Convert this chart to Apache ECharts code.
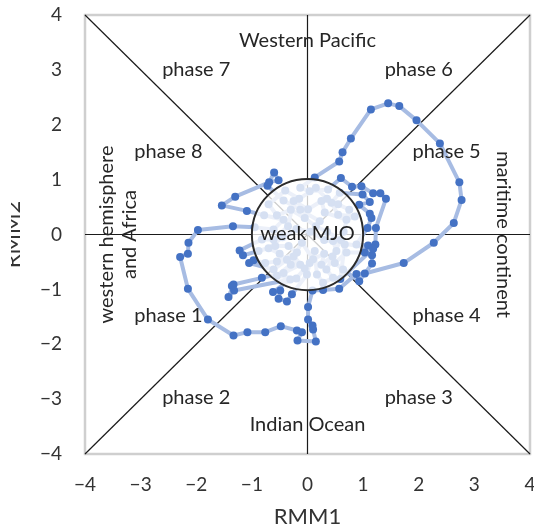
<!DOCTYPE html>
<html>
<head>
<meta charset="utf-8">
<title>RMM phase diagram</title>
<script src="https://cdn.jsdelivr.net/npm/echarts@6/dist/echarts.min.js"></script>
<style>
  html, body { margin: 0; padding: 0; background: #ffffff; }
  #chart { width: 534px; height: 529px; }
</style>
</head>
<body>
<div id="chart"></div>
<script>
// Daily RMM index trajectory (RMM1, RMM2), in time order
const rmm1 = [
  0.22, -0.13, -0.43, -0.72, -0.60, -0.52, -0.69, -1.30, -1.54, -1.09,
  -0.78, -0.43, -0.61, -0.95, -1.34, -1.97, -2.14, -2.15, -2.29, -2.15,
  -1.79, -1.33, -1.08, -0.76, -0.48, -0.19, -0.10, -0.18, 0.15, 0.10,
  0.09, 0.01, 0.01, 0.09, 0.28, 0.57, 0.88, 1.03, 1.73, 2.27,
  2.63, 2.77, 2.73, 2.38, 1.96, 1.65, 1.45, 1.14, 0.78, 0.63,
  0.57, 0.13, -0.13, 0.04, 0.37, 0.60, 0.80, 0.97, 1.18, 1.31,
  1.41, 1.23, 1.22, 1.16, 1.16, 0.93, 0.64, 0.49, 0.70, 1.03,
  1.09, 0.88, 1.08, 1.15, 1.12, 0.93, 1.12, 0.99, 0.58, 0.43,
  0.55, 0.85, 0.70, 0.31, 0.25, 0.01, -0.25, -0.35, -0.61, -0.82,
  -1.22, -1.16, -0.88, -0.58, -0.34, -0.19, -0.55, -0.76, -0.97, -1.05,
  -0.61, -0.37, -0.13, -0.43, -0.82, -1.33, -1.36, -1.42, -1.32, -0.31,
  -0.62, -0.49, -0.52, -0.37, -0.28, -0.01, 0.04, 0.13, 0.17, 0.28,
  0.46, 0.34, 0.52, 0.46, 0.67, 0.59, 1.18, 0.30, 0.05, -0.20,
  -0.45, -0.70, -0.50, -0.30, -0.55, -0.20, -0.05, -0.25, -0.10, 0.10,
  0.30, 0.25, 0.45, 0.60, 0.35, 0.15, -0.05, -0.30, -0.55, -0.70,
  -0.40, -0.15, 0.15, 0.35, 0.55, 0.75, 0.65
];
const rmm2 = [
  0.24, 0.45, 0.62, 0.89, 1.13, 0.99, 0.95, 0.69, 0.53, 0.43,
  0.35, 0.27, 0.09, 0.13, 0.15, 0.08, -0.15, -0.35, -0.41, -0.99,
  -1.55, -1.84, -1.78, -1.78, -1.67, -1.75, -1.78, -1.93, -1.95, -1.73,
  -1.66, -1.55, -1.32, -1.02, -1.01, -0.99, -0.72, -0.71, -0.52, -0.15,
  0.21, 0.63, 0.95, 1.66, 2.08, 2.34, 2.39, 2.28, 1.75, 1.50,
  1.33, 1.04, 0.85, 0.79, 0.82, 1.03, 0.87, 0.88, 0.75, 0.75,
  0.65, 0.12, -0.18, -0.38, -0.53, -0.85, -0.64, -0.52, -0.33, -0.33,
  -0.20, -0.18, 0.12, 0.30, 0.38, 0.54, 0.59, 0.73, 0.76, 0.58,
  0.36, 0.33, 0.27, 0.40, 0.61, 0.46, 0.61, 0.15, -0.09, -0.09,
  -0.29, -0.38, -0.30, -0.21, -0.21, -0.33, -0.49, -0.52, -0.47, -0.52,
  -0.64, -0.46, -0.55, -0.70, -0.79, -0.91, -0.94, -1.14, -1.02, -0.82,
  -1.05, -1.02, -1.17, -1.22, -1.09, -0.73, -0.52, -0.30, -0.73, -0.88,
  -0.79, -0.64, -0.30, -0.12, -0.18, -0.81, -0.26, -0.10, 0.05, 0.10,
  -0.05, -0.25, -0.35, -0.55, -0.75, -0.80, -0.62, -0.40, -0.15, -0.45,
  -0.35, -0.55, -0.40, -0.10, 0.05, 0.15, 0.30, 0.45, 0.35, 0.55,
  0.80, 0.65, 0.85, 0.65, 0.55, 0.45, 0.05
];

// Axis range and tick step
const axisMin = -4;
const axisMax = 4;
const axisStep = 1;

// Phase-space guide segments: x1, y1, x2, y2
const guideSegments = [
  [axisMin, axisMin, axisMax, axisMax],
  [axisMin, axisMax, axisMax, axisMin],
  [0, axisMin, 0, axisMax],
  [axisMin, 0, axisMax, 0]
];

// Amplitude threshold for the weak-MJO circle
const weakAmplitude = 1;

// Region notes: text, anchor (RMM1, RMM2), rotation in degrees
const regionNotes = [
  ['Western Pacific', 0, 3.54, 0],
  ['Indian Ocean', 0, -3.47, 0],
  ['phase 7', -2.0, 3.01, 0],
  ['phase 6', 2.0, 3.01, 0],
  ['phase 8', -2.5, 1.52, 0],
  ['phase 5', 2.5, 1.52, 0],
  ['phase 1', -2.5, -1.48, 0],
  ['phase 4', 2.5, -1.48, 0],
  ['phase 2', -2.0, -2.98, 0],
  ['phase 3', 2.0, -2.98, 0],
  ['western hemisphere', -3.61, 0, 90],
  ['and Africa', -3.2, 0, 90],
  ['maritime continent', 3.53, 0, -90]
];

const FONT = 'Lato, "Open Sans", "DejaVu Sans", sans-serif';
const minus = v => (v < 0 ? '\u2212' + Math.abs(v) : String(v));

const chart = echarts.init(document.getElementById('chart'), null, { renderer: 'canvas' });

const trajectory = rmm1.map((x, i) => [x, rmm2[i]]);

chart.setOption({
  animation: false,
  backgroundColor: '#ffffff',
  grid: {
    left: 85, right: 4, top: 15, bottom: 75,
    outerBoundsMode: 'none', containLabel: false,
    show: true, borderColor: '#cfcfcf', borderWidth: 2.5, backgroundColor: 'transparent'
  },
  xAxis: {
    type: 'value', min: axisMin, max: axisMax, interval: axisStep,
    name: 'RMM1', nameLocation: 'middle', nameGap: 52,
    nameTextStyle: { fontFamily: FONT, fontSize: 22, color: '#333333' },
    axisLine: { show: false }, axisTick: { show: false }, splitLine: { show: false },
    axisLabel: { fontFamily: FONT, fontSize: 19, color: '#333333', margin: 21, formatter: minus,
                 showMinLabel: true, showMaxLabel: true, hideOverlap: false }
  },
  yAxis: {
    type: 'value', min: axisMin, max: axisMax, interval: axisStep,
    name: 'RMM2', nameLocation: 'middle', nameGap: 61, nameRotate: 90,
    nameTextStyle: { fontFamily: FONT, fontSize: 22, color: '#333333' },
    axisLine: { show: false }, axisTick: { show: false }, splitLine: { show: false },
    axisLabel: { fontFamily: FONT, fontSize: 19, color: '#333333', margin: 23, formatter: minus,
                 showMinLabel: true, showMaxLabel: true, hideOverlap: false }
  },
  graphic: [{
    type: 'rect', left: 0, top: 180, z: 100,
    shape: { width: 11, height: 110 }, style: { fill: '#ffffff' }
  }],
  series: [
    {
      // phase boundaries and axes
      type: 'custom', z: 1, silent: true,
      data: guideSegments,
      renderItem: (params, api) => {
        const p1 = api.coord([api.value(0), api.value(1)]);
        const p2 = api.coord([api.value(2), api.value(3)]);
        return {
          type: 'line',
          shape: { x1: p1[0], y1: p1[1], x2: p2[0], y2: p2[1] },
          style: { stroke: '#1a1a1a', lineWidth: 1.2 }
        };
      }
    },
    {
      type: 'line', z: 2,
      data: trajectory,
      symbol: 'circle', symbolSize: 8, showSymbol: true,
      lineStyle: { color: '#a7bce3', width: 4 },
      itemStyle: { color: '#4472c4', borderWidth: 0 }
    },
    {
      // weak-MJO circle veiling the low-amplitude days
      type: 'custom', z: 5, silent: true,
      data: [[0, 0, weakAmplitude]],
      renderItem: (params, api) => {
        const c = api.coord([api.value(0), api.value(1)]);
        const r = api.size([api.value(2), api.value(2)])[0];
        return {
          type: 'group',
          children: [
            { type: 'circle', shape: { cx: c[0], cy: c[1], r: r },
              style: { fill: 'rgba(255,255,255,0.78)', stroke: '#2b2b2b', lineWidth: 2 } },
            { type: 'text', x: c[0], y: c[1] - 1,
              style: { text: 'weak MJO', font: '20px ' + FONT, fill: '#222222',
                       align: 'center', verticalAlign: 'middle' } }
          ]
        };
      }
    },
    {
      type: 'custom', z: 6, silent: true,
      data: regionNotes.map(n => [n[1], n[2], n[3]]),
      renderItem: (params, api) => {
        const note = regionNotes[params.dataIndex];
        const p = api.coord([note[1], note[2]]);
        return {
          type: 'text', x: p[0], y: p[1], rotation: note[3] * Math.PI / 180,
          style: { text: note[0], font: '20px ' + FONT, fill: '#262626',
                   align: 'center', verticalAlign: 'middle' }
        };
      }
    }
  ]
});
</script>
</body>
</html>
